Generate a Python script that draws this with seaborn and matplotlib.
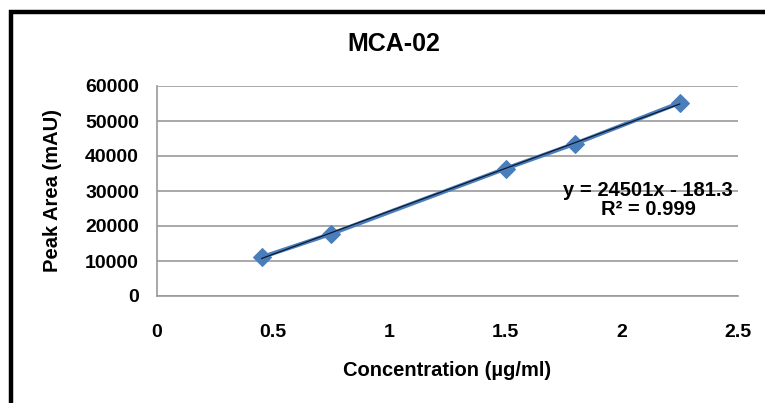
import pandas as pd
import matplotlib.pyplot as plt
import seaborn as sns
from matplotlib.patches import Rectangle

# calibration points
concentration = [0.45, 0.75, 1.5, 1.8, 2.25]
peak_area = [11080, 17770, 36390, 43550, 55200]
x_ticks = [0, 0.5, 1, 1.5, 2, 2.5]
y_ticks = [0, 10000, 20000, 30000, 40000, 50000, 60000]
equation = "y = 24501x - 181.3\nR\u00b2 = 0.999"

data = pd.DataFrame({"Concentration": concentration, "Peak": peak_area})

sns.set_style("white")
plt.rcParams['font.family'] = ['Liberation Sans', 'DejaVu Sans']
plt.rcParams['font.weight'] = 'bold'
plt.rcParams['text.color'] = 'black'
plt.rcParams['xtick.color'] = 'black'
plt.rcParams['ytick.color'] = 'black'

fig = plt.figure(figsize=(7.65, 4.03), dpi=100)
ax = fig.add_axes([157 / 765, 1 - 296 / 403, (738 - 157) / 765, (296 - 86) / 403])

# series line with diamond markers
sns.lineplot(x="Concentration", y="Peak", data=data, ax=ax,
             color="#4A7EBB", linewidth=3.0, marker="D", markersize=9.5,
             markeredgecolor="#4A7EBB", zorder=3)

# linear trendline over the data range
sns.regplot(x="Concentration", y="Peak", data=data, ax=ax, scatter=False,
            ci=None, truncate=True,
            line_kws={'color': '#101830', 'linewidth': 0.9, 'zorder': 4})

ax.set_xlim(0, 2.5)
ax.set_ylim(0, 60000)
ax.set_xticks(x_ticks)
ax.set_xticklabels(["0", "0.5", "1", "1.5", "2", "2.5"])
ax.set_yticks(y_ticks)
ax.tick_params(axis='x', length=0, pad=20, labelsize=14, labelcolor='black')
ax.tick_params(axis='y', length=0, pad=13, labelsize=14, labelcolor='black')
for lab in ax.get_xticklabels() + ax.get_yticklabels():
    lab.set_fontweight('bold')

ax.yaxis.grid(True, color="#9A9A9A", linewidth=1.2)
ax.xaxis.grid(False)
for side in ["top", "right"]:
    ax.spines[side].set_visible(False)
for side in ["left", "bottom"]:
    ax.spines[side].set_color("#9A9A9A")
    ax.spines[side].set_linewidth(1.2)

ax.set_xlabel("")
ax.set_ylabel("")
fig.text(447 / 765, 1 - 370 / 403, "Concentration (\u00b5g/ml)", ha="center",
         va="center", fontsize=14.5, fontweight="bold", color="black")
fig.text(53 / 765, 1 - 191 / 403, "Peak Area (mAU)", ha="center", va="center",
         rotation=90, fontsize=14.5, fontweight="bold", color="black")
fig.text(394 / 765, 1 - 44 / 403, "MCA-02", ha="center", va="center",
         fontsize=18, fontweight="bold", color="black")
fig.text(648 / 765, 1 - 200 / 403, equation, ha="center", va="center",
         fontsize=14.5, fontweight="bold", linespacing=0.95, color="black")

# chart frame
fig.patches.append(Rectangle((11 / 765, -0.1), 1.0, 1 - 12 / 403 + 0.1,
                             transform=fig.transFigure, fill=False,
                             edgecolor="black", linewidth=3.2))

plt.savefig("out.png", dpi=100)
